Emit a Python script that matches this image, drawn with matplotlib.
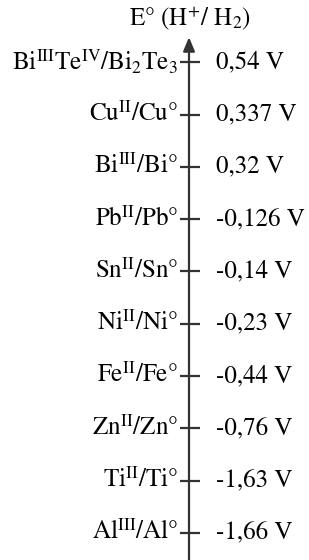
import matplotlib
matplotlib.use("Agg")
import matplotlib.pyplot as plt

plt.rcParams['font.family'] = ['STIXGeneral', 'Liberation Serif']
plt.rcParams['mathtext.fontset'] = 'stix'

# couples redox, du haut vers le bas de l'échelle
couples = [
    r'Bi$^{\rm III}$Te$^{\rm IV}$/Bi$_2$Te$_3$',
    r'Cu$^{\rm II}$/Cu°',
    r'Bi$^{\rm III}$/Bi°',
    r'Pb$^{\rm II}$/Pb°',
    r'Sn$^{\rm II}$/Sn°',
    r'Ni$^{\rm II}$/Ni°',
    r'Fe$^{\rm II}$/Fe°',
    r'Zn$^{\rm II}$/Zn°',
    r'Ti$^{\rm II}$/Ti°',
    r'Al$^{\rm III}$/Al°',
]
potentiels = ['0,54', '0,337', '0,32', '-0,126', '-0,14',
              '-0,23', '-0,44', '-0,76', '-1,63', '-1,66']
titre = r'E° (H$^{+}$/ H$_2$)'

W, H = 309, 560
fig = plt.figure(figsize=(W / 100, H / 100), dpi=100)
ax = fig.add_axes([0, 0, 1, 1])
ax.set_xlim(0, W)
# un cran par couple, l'échelle n'est pas proportionnelle
ax.set_ylim(9.52, -1.19)
ax.axis('off')

x_axe = 189
couleur = '#333333'
pos = list(range(len(couples)))

ax.annotate('', xy=(x_axe, -0.48), xytext=(x_axe, 9.6),
            arrowprops=dict(arrowstyle='-|>,head_width=0.25,head_length=0.6',
                            color=couleur, lw=1.6,
                            mutation_scale=14, shrinkA=0, shrinkB=0))
ax.hlines(pos, x_axe - 9, x_axe + 11, color=couleur, lw=1.6)

for i, (c, v) in enumerate(zip(couples, potentiels)):
    ax.text(x_axe - 11, i, c, ha='right', va='center', fontsize=18)
    ax.text(x_axe + 27, i, v + ' V', ha='left', va='center', fontsize=18)

ax.text(x_axe + 1, -0.85, titre, ha='center', va='center', fontsize=18)

fig.savefig('out.png', dpi=100)
